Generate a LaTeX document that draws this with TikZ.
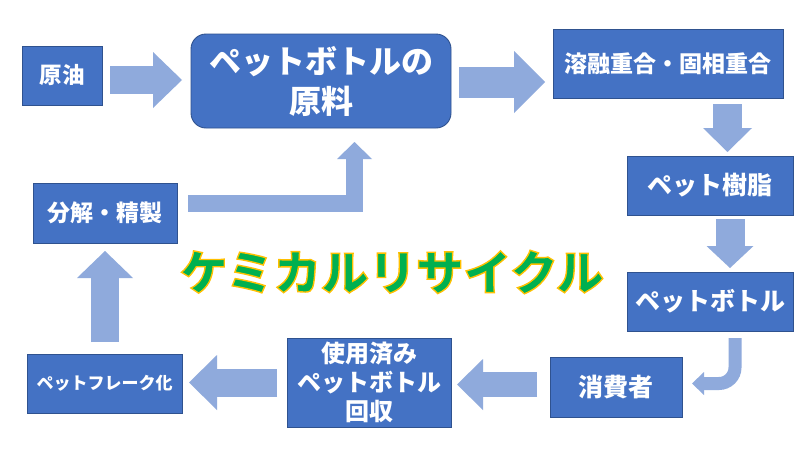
\documentclass[tikz,border=0pt]{standalone}
\usepackage{fontspec}
\newfontfamily\jp{Noto Sans CJK JP}
\usetikzlibrary{arrows.meta,calc}
\definecolor{boxblue}{HTML}{4472C4}
\definecolor{boxedge}{HTML}{2F528F}
\definecolor{arrowblue}{HTML}{8FAADC}
\definecolor{titlegreen}{HTML}{00B050}
\newcommand{\fs}[2]{\jp\bfseries\fontsize{#1}{#2}\selectfont}
\newcommand{\strokedtext}[1]{\special{pdf:code q 2 Tr 1.4 w 1 0.753 0 RG}#1\special{pdf:code Q}}
\begin{document}
\begin{tikzpicture}[x=1pt,y=-1pt,
  box/.style={draw=boxedge, line width=0.9pt, fill=boxblue, text=white,
    inner sep=0pt, outer sep=0pt, align=center},
  blockarrow/.style={draw=arrowblue, line join=miter, line cap=butt},
]
\fill[white] (0,0) rectangle (800,450);
\useasboundingbox (0,0) rectangle (800,450);

% boxes
\node[box, minimum width=80pt, minimum height=59pt, font=\fs{22.5}{26}] (genyu) at (62,75.5) {原油};
\node[box, rounded corners=15pt, minimum width=260pt, minimum height=94pt, font=\fs{32}{40}] (genryo) at (321,81) {ペットボトルの\\原料};
\node[box, minimum width=230pt, minimum height=69pt, font=\fs{23}{26}] (yoyu) at (668,63.5) {溶融重合・固相重合};
\node[box, minimum width=166pt, minimum height=59pt, font=\fs{25}{28}] (jushi) at (710,185.5) {ペット樹脂};
\node[box, minimum width=166pt, minimum height=59pt, font=\fs{25}{28}] (bottle) at (710,301.5) {ペットボトル};
\node[box, minimum width=132pt, minimum height=60pt, font=\fs{25}{28}] (shohi) at (616,387) {消費者};
\node[box, minimum width=164pt, minimum height=89pt, font=\fs{24}{29}] (kaishu) at (369,382.5) {使用済み\\ペットボトル\\回収};
\node[box, minimum width=155pt, minimum height=59pt, font=\fs{17}{20}] (flake) at (104.5,383.5) {ペットフレーク化};
\node[box, minimum width=144pt, minimum height=60pt, font=\fs{23}{26}] (bunkai) at (105,213) {分解・精製};

% title
\node[font=\fs{47.5}{50}, text=titlegreen, inner sep=0pt] (title) at (392,272) {\strokedtext{ケミカルリサイクル}};

% arrows
\draw[blockarrow, line width=28pt, -{Triangle[width=56pt,length=29pt,line width=0pt]}]
  ($(genyu.east)+(8,4.5)$) -- ($(genryo.west)+(-9,-1)$);
\draw[blockarrow, line width=31pt, -{Triangle[width=62pt,length=31pt,line width=0pt]}]
  ($(genryo.east)+(8,1)$) -- ($(yoyu.west)+(-8,18.5)$);
\draw[blockarrow, line width=29pt, -{Triangle[width=49pt,length=24pt,line width=0pt]}]
  ($(yoyu.south)+(59.5,6)$) -- ($(jushi.north)+(17.5,-4)$);
\draw[blockarrow, line width=29pt, -{Triangle[width=47pt,length=22pt,line width=0pt]}]
  ($(jushi.south)+(20,4)$) -- ($(bottle.north)+(20,-4)$);
\draw[blockarrow, line width=13pt, rounded corners=16pt, -{Triangle[width=23pt,length=12pt,line width=0pt]}]
  ($(bottle.south)+(25,7)$) |- ($(shohi.east)+(10,-3.5)$);
\draw[blockarrow, line width=25pt, -{Triangle[width=51pt,length=26pt,line width=0pt]}]
  ($(shohi.west)+(-13,-2.5)$) -- ($(kaishu.east)+(6,2)$);
\draw[blockarrow, line width=28pt, -{Triangle[width=55pt,length=28pt,line width=0pt]}]
  ($(kaishu.west)+(-10,0)$) -- ($(flake.east)+(7,-1)$);
\draw[blockarrow, line width=28pt, -{Triangle[width=56pt,length=27pt,line width=0pt]}]
  ($(flake.north)+(0.5,-12)$) -- ($(bunkai.south)+(0,8)$);
\draw[blockarrow, line width=17pt, -{Triangle[width=35pt,length=17pt,line width=0pt]}]
  ($(bunkai.east)+(11,-9.5)$) -| ($(genryo.south)+(33.5,14)$);
\end{tikzpicture}
\end{document}
